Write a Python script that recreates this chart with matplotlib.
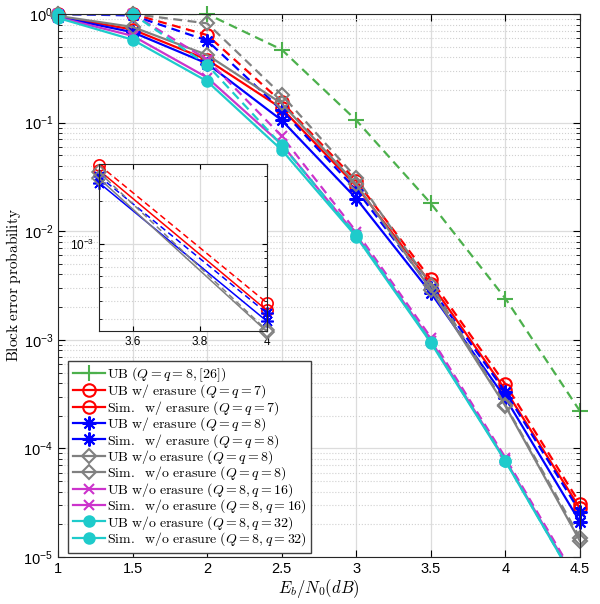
import numpy as np
import matplotlib
matplotlib.use("Agg")
from matplotlib import pyplot as plt
from matplotlib.lines import Line2D
from matplotlib.ticker import LogLocator, NullFormatter

plt.rcParams['font.family'] = ['Liberation Sans', 'DejaVu Sans']
plt.rcParams['mathtext.fontset'] = 'cm'

# Eb/N0 (dB)
ebn0 = [1, 1.5, 2, 2.5, 3, 3.5, 4, 4.5]

# block error probabilities
ub_ref = [1, 1, 1, 0.47, 0.105, 0.018, 0.0024, 2.2e-4]
ub_er7 = [1, 1, 0.64, 0.155, 0.029, 3.6e-3, 3.9e-4, 3.1e-5]
sim_er7 = [0.95, 0.72, 0.38, 0.135, 0.026, 3.3e-3, 3.45e-4, 2.8e-5]
ub_er8 = [1, 0.97, 0.57, 0.13, 0.024, 3.0e-3, 3.3e-4, 2.6e-5]
sim_er8 = [0.94, 0.68, 0.35, 0.105, 0.020, 2.7e-3, 2.9e-4, 2.1e-5]
ub_no8 = [1, 1, 0.82, 0.18, 0.031, 3.2e-3, 2.5e-4, 1.5e-5]
sim_no8 = [0.96, 0.76, 0.42, 0.15, 0.027, 2.9e-3, 2.45e-4, 1.4e-5]
ub_no16 = [1, 1, 0.38, 0.075, 0.0099, 1.05e-3, 8.2e-5, 5.5e-6]
sim_no16 = [0.93, 0.63, 0.26, 0.063, 0.0092, 9.8e-4, 7.8e-5, 5.2e-6]
ub_no32 = [1, 1, 0.34, 0.062, 0.0093, 9.6e-4, 7.7e-5, 5e-6]
sim_no32 = [0.92, 0.58, 0.24, 0.056, 0.0089, 9.4e-4, 7.6e-5, 5e-6]

labels = [
    r'$\mathrm{UB}\ (Q=q=8,[26])$',
    r'$\mathrm{UB\ w/\ erasure}\ (Q=q=7)$',
    r'$\mathrm{Sim.\ \ w/\ erasure}\ (Q=q=7)$',
    r'$\mathrm{UB\ w/\ erasure}\ (Q=q=8)$',
    r'$\mathrm{Sim.\ \ w/\ erasure}\ (Q=q=8)$',
    r'$\mathrm{UB\ w/o\ erasure}\ (Q=q=8)$',
    r'$\mathrm{Sim.\ \ w/o\ erasure}\ (Q=q=8)$',
    r'$\mathrm{UB\ w/o\ erasure}\ (Q=8,q=16)$',
    r'$\mathrm{Sim.\ \ w/o\ erasure}\ (Q=8,q=16)$',
    r'$\mathrm{UB\ w/o\ erasure}\ (Q=8,q=32)$',
    r'$\mathrm{Sim.\ \ w/o\ erasure}\ (Q=8,q=32)$',
]
series = [ub_ref, ub_er7, sim_er7, ub_er8, sim_er8, ub_no8, sim_no8,
          ub_no16, sim_no16, ub_no32, sim_no32]

green = '#4cb04c'
gray = '#808080'
mag = '#cc33cc'
cyan = '#1ecbcb'
ast = (8, 2, 0)
# color, linestyle, marker, marker size, filled
styles = [
    (green, '--', '+', 12, True),
    ('red', '--', 'o', 9, False),
    ('red', '-', 'o', 9, False),
    ('blue', '--', ast, 10, True),
    ('blue', '-', ast, 10, True),
    (gray, '--', 'D', 7.5, False),
    (gray, '-', 'D', 7.5, False),
    (mag, '--', 'x', 7.5, True),
    (mag, '-', 'x', 7.5, True),
    (cyan, '--', 'o', 7.5, True),
    (cyan, '-', 'o', 7.5, True),
]

fig = plt.figure(figsize=(6, 6.04), dpi=100)
ax = fig.add_axes([0.0967, 0.0778, 0.87, 0.899])

ymin = 1e-5
handles = []
for y, lab, (c, ls, m, ms, filled) in zip(series, labels, styles):
    mfc = c if filled else 'none'
    dash = (4, 2.5) if ls == '--' else (None, None)
    ax.plot(ebn0, y, color=c, linestyle=ls, dashes=dash, linewidth=1.6)
    ym = np.ma.masked_less(np.array(y), ymin)
    ax.plot(ebn0, ym, linestyle='none', color=c, marker=m, markersize=ms,
            markerfacecolor=mfc, markeredgewidth=1.5, clip_on=False)
    handles.append(Line2D([], [], color=c, linestyle='-', linewidth=1.6, marker=m,
                          markersize=ms, markerfacecolor=mfc, markeredgewidth=1.5,
                          label=lab))

ax.set_yscale('log')
ax.set_xlim(1, 4.5)
ax.set_ylim(ymin, 1)
ax.set_xticks(ebn0)
ax.set_xticklabels(['1', '1.5', '2', '2.5', '3', '3.5', '4', '4.5'])
ax.yaxis.set_major_locator(LogLocator(base=10, numticks=10))
ax.yaxis.set_minor_locator(LogLocator(base=10, subs=np.arange(2, 10), numticks=20))
ax.yaxis.set_minor_formatter(NullFormatter())
ax.grid(True, which='major', color='#dcdcdc', linewidth=0.9)
ax.grid(True, which='minor', axis='y', color='#d0d0d0', linestyle=':', linewidth=0.8)
ax.tick_params(which='both', direction='in', top=True, right=True, labelsize=10.5)
ax.tick_params(which='major', length=5)
ax.tick_params(which='minor', length=3)
for s in ax.spines.values():
    s.set_color('#262626')
ax.set_axisbelow(True)
ax.set_xlabel(r'$E_b/N_0(dB)$', fontsize=12, labelpad=1)
ax.set_ylabel(r'$\mathrm{Block\ error\ probability}$', fontsize=11, labelpad=0)

leg = ax.legend(handles=handles, loc='lower left', bbox_to_anchor=(0.012, 0.0),
                fontsize=10, labelspacing=-0.1, handlelength=2.3, handletextpad=0.1,
                borderpad=0.35, borderaxespad=0.3, fancybox=False, framealpha=1)
leg.get_frame().set_edgecolor('#404040')
leg.get_frame().set_linewidth(1.0)

# zoomed inset
ins = fig.add_axes([0.165, 0.452, 0.28, 0.2765])
for y, (c, ls, m, ms, filled) in zip(series[1:7], styles[1:7]):
    mfc = c if filled else 'none'
    ins.plot(ebn0[5:7], y[5:7], color=c, marker=m, markersize=ms * 0.9,
             markerfacecolor=mfc, markeredgewidth=1.2, linewidth=1.1,
             linestyle=ls, dashes=(4, 2.5) if ls == '--' else (None, None),
             clip_on=False)
ins.set_yscale('log')
ins.set_xlim(3.5, 4)
ins.set_ylim(2.48e-4, 3.65e-3)
ins.set_xticks([3.6, 3.8, 4])
ins.set_xticklabels(['3.6', '3.8', '4'])
ins.yaxis.set_major_locator(LogLocator(base=10, numticks=10))
ins.yaxis.set_minor_locator(LogLocator(base=10, subs=np.arange(2, 10), numticks=20))
ins.yaxis.set_minor_formatter(NullFormatter())
ins.grid(True, which='major', color='#dcdcdc', linewidth=0.9)
ins.grid(True, which='minor', axis='y', color='#d0d0d0', linestyle=':', linewidth=0.8)
ins.tick_params(which='both', direction='in', top=True, right=True, labelsize=8.5)
ins.set_axisbelow(True)
for s in ins.spines.values():
    s.set_color('#262626')

fig.savefig('out.png', dpi=100)
